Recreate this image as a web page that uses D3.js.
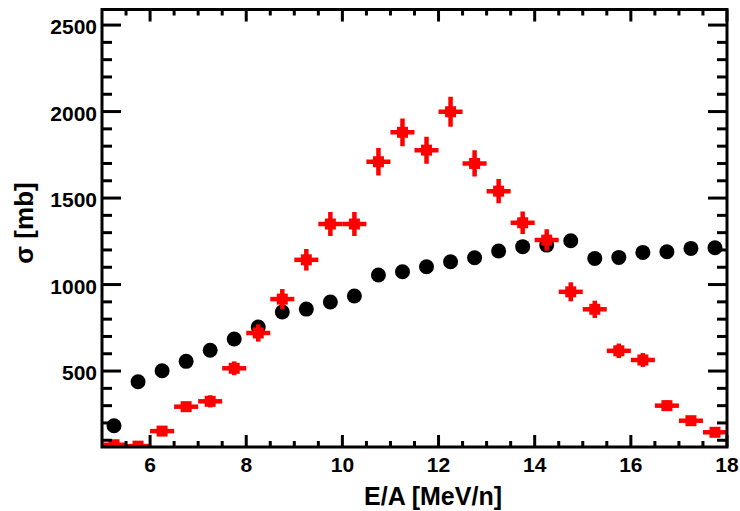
<!DOCTYPE html>
<html>
<head>
<meta charset="utf-8">
<script src="https://cdn.jsdelivr.net/npm/d3@7"></script>
<style>
  html, body { margin: 0; padding: 0; background: #fff; }
  svg { display: block; font-family: "Liberation Sans", Arial, sans-serif; font-weight: bold; }
</style>
</head>
<body>
<div id="chart"></div>
<script>
// Bin centres along E/A (MeV/n), one entry per measured point.
var energies = [5.25, 5.75, 6.25, 6.75, 7.25, 7.75, 8.25, 8.75, 9.25, 9.75,
                10.25, 10.75, 11.25, 11.75, 12.25, 12.75, 13.25, 13.75, 14.25,
                14.75, 15.25, 15.75, 16.25, 16.75, 17.25, 17.75];

// Black circles (no error bars drawn).
var blackSigma = [184, 438, 502, 556, 620, 685, 754, 841, 858, 899,
                  934, 1055, 1074, 1103, 1132, 1155, 1194, 1219, 1228,
                  1253, 1151, 1157, 1186, 1190, 1209, 1213];

// Red squares with error bars.
var redSigma = [74, 66, 153, 294, 325, 516, 720, 916, 1143, 1350,
                1350, 1710, 1880, 1777, 1999, 1700, 1540, 1357, 1257,
                958, 857, 617, 564, 300, 213, 146];
var redErr = [20, 20, 25, 28, 35, 40, 50, 58, 62, 69,
              69, 79, 80, 78, 87, 76, 70, 65, 62,
              55, 50, 42, 40, 30, 25, 22];
var binHalfWidth = 0.25;

var xMajorTicks = [6, 8, 10, 12, 14, 16, 18];
var yMajorTicks = [500, 1000, 1500, 2000, 2500];

var xTitle = 'E/A [MeV/n]';
var yTitle = 'σ [mb]';

;(function() {
  'use strict';

  var totalW = 740, totalH = 511;
  var frame = {left: 102, right: 727, top: 9.5, bottom: 447};

  var svg = d3.select('#chart').append('svg')
      .attr('width', totalW)
      .attr('height', totalH);

  var x = d3.scaleLinear().domain([5, 18]).range([frame.left, frame.right]);
  var y = d3.scaleLinear().domain([61, 2590]).range([frame.bottom, frame.top]);

  // Minor ticks: every 0.5 on x, every 100 on y.
  var xMinor = d3.range(5.5, 18, 0.5).filter(function(v) { return xMajorTicks.indexOf(v) < 0; });
  var yMinor = d3.range(100, 2590, 100).filter(function(v) { return yMajorTicks.indexOf(v) < 0; });

  svg.append('clipPath').attr('id', 'plot-clip')
    .append('rect')
      .attr('x', frame.left).attr('y', frame.top)
      .attr('width', frame.right - frame.left)
      .attr('height', frame.bottom - frame.top);

  var plot = svg.append('g').attr('clip-path', 'url(#plot-clip)');

  // Black circles first, red crosses on top.
  plot.selectAll('.dot')
      .data(energies)
    .enter().append('circle')
      .attr('class', 'dot')
      .attr('cx', function(d) { return x(d); })
      .attr('cy', function(d, i) { return y(blackSigma[i]); })
      .attr('r', 7.5)
      .style('fill', '#000');

  var red = plot.selectAll('.red')
      .data(energies)
    .enter().append('g')
      .attr('class', 'red');

  red.append('line')
      .attr('x1', function(d) { return x(d - binHalfWidth); })
      .attr('x2', function(d) { return x(d + binHalfWidth); })
      .attr('y1', function(d, i) { return y(redSigma[i]); })
      .attr('y2', function(d, i) { return y(redSigma[i]); })
      .style('stroke', '#f00').style('stroke-width', 4.5);

  red.append('line')
      .attr('x1', function(d) { return x(d); })
      .attr('x2', function(d) { return x(d); })
      .attr('y1', function(d, i) { return y(redSigma[i] - redErr[i]); })
      .attr('y2', function(d, i) { return y(redSigma[i] + redErr[i]); })
      .style('stroke', '#f00').style('stroke-width', 4.5);

  red.append('rect')
      .attr('x', function(d) { return x(d) - 5.5; })
      .attr('y', function(d, i) { return y(redSigma[i]) - 5.5; })
      .attr('width', 11).attr('height', 11)
      .style('fill', '#f00');

  // Ticks on all four sides, pointing inwards.
  var ticks = svg.append('g').style('stroke', '#000').style('stroke-width', 3);

  function xTicks(values, len) {
    values.forEach(function(v) {
      ticks.append('line')
        .attr('x1', x(v)).attr('x2', x(v))
        .attr('y1', frame.bottom).attr('y2', frame.bottom - len);
      ticks.append('line')
        .attr('x1', x(v)).attr('x2', x(v))
        .attr('y1', frame.top).attr('y2', frame.top + len);
    });
  }
  function yTicks(values, len) {
    values.forEach(function(v) {
      ticks.append('line')
        .attr('x1', frame.left).attr('x2', frame.left + len)
        .attr('y1', y(v)).attr('y2', y(v));
      ticks.append('line')
        .attr('x1', frame.right).attr('x2', frame.right - len)
        .attr('y1', y(v)).attr('y2', y(v));
    });
  }
  xTicks(xMajorTicks, 12);
  xTicks(xMinor, 6);
  yTicks(yMajorTicks, 19);
  yTicks(yMinor, 10);

  // Frame.
  svg.append('rect')
      .attr('x', frame.left).attr('y', frame.top)
      .attr('width', frame.right - frame.left)
      .attr('height', frame.bottom - frame.top)
      .style('fill', 'none')
      .style('stroke', '#000')
      .style('stroke-width', 3);

  // Tick labels.
  svg.append('g').selectAll('text')
      .data(xMajorTicks)
    .enter().append('text')
      .attr('x', function(d) { return x(d); })
      .attr('y', frame.bottom + 25)
      .attr('text-anchor', 'middle')
      .style('font-size', '21px')
      .text(function(d) { return d; });

  svg.append('g').selectAll('text')
      .data(yMajorTicks)
    .enter().append('text')
      .attr('x', 97)
      .attr('y', function(d) { return y(d) + 9; })
      .attr('text-anchor', 'end')
      .style('font-size', '21px')
      .text(function(d) { return d; });

  // Axis titles.
  svg.append('text')
      .attr('x', 433)
      .attr('y', 505)
      .attr('text-anchor', 'middle')
      .style('font-size', '25px')
      .text(xTitle);

  svg.append('text')
      .attr('transform', 'translate(33,223) rotate(-90)')
      .attr('text-anchor', 'middle')
      .style('font-size', '26px')
      .text(yTitle);
}());
</script>
</body>
</html>
